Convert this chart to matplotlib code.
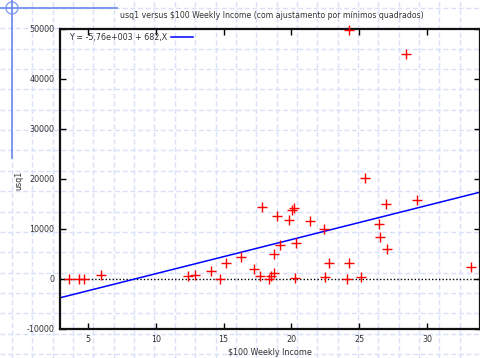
import matplotlib
matplotlib.use("Agg")
import matplotlib.pyplot as plt
from matplotlib.patches import Circle
import numpy as np

# ---- data ----
income = [3.63, 4.34, 4.70, 5.98, 12.4, 12.9, 14.1, 14.7, 15.2, 16.3,
          17.23, 17.7, 17.85, 18.33, 18.5, 18.7, 18.7, 18.95, 19.14, 19.85,
          20.02, 20.22, 20.3, 20.35, 21.35, 22.43, 22.48, 22.75, 24.07, 24.26,
          24.26, 25.1, 25.4, 26.47, 26.57, 26.99, 27.06, 28.48, 29.29, 33.26]
usq1 = [0, 0, 0, 900, 600, 870, 1600, 0, 3200, 4500,
        2100, 700, 14500, 100, 700, 1300, 5000, 12700, 6900, 11900,
        13800, 14300, 200, 7300, 11700, 10000, 400, 3300, 100, 3300,
        49900, 400, 20300, 11100, 8500, 15000, 6100, 45100, 15800, 2500]
fit_intercept = -5760.0
fit_slope = 682.0
x_ticks = [5, 10, 15, 20, 25, 30]
y_ticks = [-10000, 0, 10000, 20000, 30000, 40000, 50000]
title = "usq1 versus $100 Weekly Income (com ajustamento por mínimos quadrados)"
xlabel = "$100 Weekly Income"
ylabel = "usq1"
legend_label = "Y = -5,76e+003 + 682,X"

W, H = 480, 358
fig = plt.figure(figsize=(W / 100, H / 100), dpi=100)

# ---- background paper grid (figure pixel coordinates) ----
bg = fig.add_axes([0, 0, 1, 1], zorder=0)
bg.set_xlim(0, W)
bg.set_ylim(H, 0)
bg.axis("off")
grid_col = "#d8e0fa"
sp = 20.35
ox, oy = 12, 8
k = 0
while ox + k * sp < W:
    bg.axvline(ox + k * sp, color=grid_col, lw=1, ls=(0, (3.5, 2)))
    k += 1
k = 0
while oy + k * sp < H:
    bg.axhline(oy + k * sp, color=grid_col, lw=1, ls=(0, (3.5, 2)))
    k += 1
solid = "#6a86ec"
bg.plot([0, 117], [oy, oy], color=solid, lw=1.2)
bg.plot([ox, ox], [0, 158], color=solid, lw=1.2)
bg.add_patch(Circle((ox, oy), 6, fill=False, ec="#8aa0ee", lw=1))

# ---- main axes ----
ax = fig.add_axes([60 / W, 29 / H, 420 / W, 300 / H], zorder=1)
ax.patch.set_alpha(0)
xlim = (2.935, 33.91)
ax.set_xlim(*xlim)
ax.set_ylim(-10000, 50000)

ax.axhline(0, color="black", ls=(0, (1, 1.5)), lw=1, zorder=1)
xs = np.array(xlim)
ax.plot(xs, fit_intercept + fit_slope * xs, color="#0000ff", lw=1.1,
        label=legend_label, zorder=2)
ax.plot(income, usq1, ls="none", marker="+", color="#ff0000",
        ms=6.5, mew=1.0, zorder=3, clip_on=False)

txtc = "#333333"
fs = 5.8
ax.set_xticks(x_ticks)
ax.set_yticks(y_ticks)
ax.set_xticklabels([str(v) for v in x_ticks])
ax.set_yticklabels([str(v) for v in y_ticks])
ax.tick_params(direction="in", length=4, width=1, top=True, right=True,
               labelsize=fs, labelcolor=txtc, pad=4)
for s in ax.spines.values():
    s.set_linewidth(1.6)
    s.set_color("#111111")

ax.set_xlabel(xlabel, fontsize=fs, color=txtc, labelpad=3)
fig.text(19 / W, 1 - 180 / H, ylabel, rotation=90, fontsize=fs, color=txtc,
         ha="center", va="center")
fig.text(272 / W, 1 - 15 / H, title, fontsize=5.6, color=txtc,
         ha="center", va="center")

leg = ax.legend(loc="upper left", frameon=False, markerfirst=False,
                fontsize=fs, handlelength=2.7, borderaxespad=0.1,
                handletextpad=0.5, labelcolor=txtc,
                bbox_to_anchor=(0.012, 1.0))

fig.savefig("out.png", dpi=100)
